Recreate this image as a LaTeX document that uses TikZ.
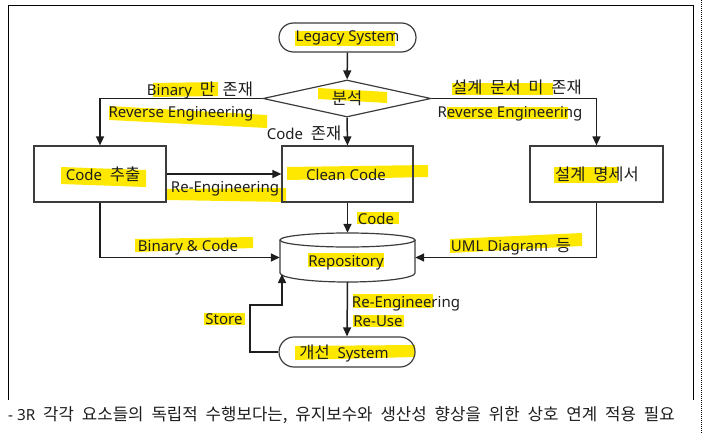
\documentclass[tikz,border=0pt]{standalone}
\usepackage{fontspec}
\setmainfont{Noto Sans}
\newfontfamily\ko[Scale=1.1,WordSpace=2.1]{Noto Sans CJK KR}
\usetikzlibrary{arrows.meta,shapes.geometric,shapes.misc}

\definecolor{hilite}{RGB}{255,232,0}
\definecolor{ink}{RGB}{30,30,30}
\definecolor{linecol}{RGB}{60,60,60}

\tikzset{
  every node/.style={font=\fontsize{15}{17}\selectfont, text=ink},
  box/.style={draw=linecol, line width=1.2pt, minimum width=132pt, minimum height=56pt, inner sep=0pt},
  terminal/.style={rounded rectangle, draw=linecol, line width=1.2pt, minimum width=137pt, minimum height=29pt, inner sep=0pt},
  decision/.style={diamond, draw=linecol, line width=1.2pt, minimum width=168pt, minimum height=37pt, inner sep=0pt, aspect=4.5},
  flow/.style={draw=ink, line width=1.5pt, -{Triangle[length=9pt,width=8pt]}},
  tag/.style={inner sep=0pt, text height=11pt, text depth=3pt},
  hl/.style={fill=hilite},
}

\begin{document}
\begin{tikzpicture}[x=1pt,y=-1pt]
\useasboundingbox (0,0) rectangle (703,434);
\draw[black, line width=1pt] (8,400) -- (8,5) -- (693,5) -- (693,400);
\draw[black, line width=0.8pt, dash pattern=on 1pt off 1pt] (701.5,0) -- (701.5,434);

\fill[hl] (295,31) -- (395,31) -- (395,46) -- (295,46) -- cycle;
\fill[hl] (318,88) -- (387,92) -- (387,103) -- (318,99) -- cycle;
\fill[hl] (153,83) -- (218,82) -- (218,96) -- (153,97) -- cycle;
\fill[hl] (109,106) -- (267,115) -- (267,128) -- (109,120) -- cycle;
\fill[hl] (61,167) -- (146,170) -- (146,187) -- (61,184) -- cycle;
\fill[hl] (166,189) -- (286,188) -- (286,202) -- (166,200) -- cycle;
\fill[hl] (287,167) -- (428,165) -- (428,177) -- (287,180) -- cycle;
\fill[hl] (452,83) -- (553,83) -- (553,95) -- (452,95) -- cycle;
\fill[hl] (447,107) -- (568,107) -- (568,119) -- (447,119) -- cycle;
\fill[hl] (554,167) -- (618,167) -- (618,183) -- (554,183) -- cycle;
\fill[hl] (357,212) -- (399,212) -- (399,224) -- (357,224) -- cycle;
\fill[hl] (135,239) -- (253,237) -- (253,248) -- (135,252) -- cycle;
\fill[hl] (308,253) -- (384,253) -- (384,267) -- (308,267) -- cycle;
\fill[hl] (450,239) -- (582,233) -- (582,246) -- (450,253) -- cycle;
\fill[hl] (204,313) -- (245,313) -- (245,325) -- (204,325) -- cycle;
\fill[hl] (353,294) -- (433,294) -- (433,308) -- (353,308) -- cycle;
\fill[hl] (353,315) -- (404,315) -- (404,327) -- (353,327) -- cycle;
\fill[hl] (295,346) -- (415,345) -- (415,357) -- (295,360) -- cycle;

\node[terminal] (legacy) at (347.5,37.5) {Legacy System};
\node[decision] (analysis) at (347,98.5) {\ko 분석};
\node[box] (extract) at (100,174) {};
\node[box, minimum width=131pt] (clean) at (347.5,174) {};
\node[box, minimum width=133pt] (spec) at (596.5,174) {};
\node[inner sep=0pt, minimum width=135pt, minimum height=49pt] (repo) at (347.5,257.5) {};
\node[terminal, minimum width=136pt, minimum height=30pt] (improved) at (347,352) {};
\coordinate (storein) at (282,274);
\coordinate (storeturn) at (250,305);

\draw[linecol, line width=1.2pt] (347.5,240) ellipse [x radius=67.5, y radius=7];
\draw[linecol, line width=1.2pt] (280,240) -- (280,273) arc[start angle=180, end angle=0, x radius=67.5, y radius=9] -- (415,240);

\node[tag] (extractlabel) at (103,176) {Code{\ko\ 추출}};
\node[tag] (cleanlabel) at (346,176) {Clean Code};
\node[tag] (speclabel) at (597,176) {\ko 설계 명세서};
\node[tag] (repolabel) at (346,262) {Repository};
\node[tag] (improvedlabel) at (344,354) {{\ko 개선\ }System};

\draw[flow] (legacy) -- (analysis);
\draw[flow] (analysis.west) -| (extract.north);
\draw[flow] (analysis.east) -| (spec.north);
\draw[flow] (analysis.south) -- (clean.north);
\draw[flow] (extract.east) -- (clean.west);
\draw[flow] (clean.south) -- (repo.north);
\draw[flow] (extract.south) |- (repo.west);
\draw[flow] (spec.south) |- (repo.east);
\draw[flow] (repo.south) -- (improved.north);
\draw[flow] (improved.west) -| (storeturn) -| (storein);

\node[tag] (binonly) at (200,91) {Binary{\ko\ 만 존재}};
\node[tag] (revleft) at (181,113) {Reverse Engineering};
\node[tag] (codeexists) at (304,135) {Code{\ko\ 존재}};
\node[tag] (nodesign) at (517,89) {\ko 설계 문서 미 존재};
\node[tag] (revright) at (510,113) {Reverse Engineering};
\node[tag] (reeng) at (225,188) {Re-Engineering};
\node[tag] (codeout) at (376,220) {Code};
\node[tag] (bincode) at (188,247) {Binary \& Code};
\node[tag] (uml) at (511,247) {UML Diagram{\ko\ 등}};
\node[tag] (store) at (224,320) {Store};
\node[tag] (reenglow) at (406,303) {Re-Engineering};
\node[tag] (reuse) at (378,322) {Re-Use};

\node[tag, anchor=west, font=\fontsize{15.25}{17}\selectfont] (footer) at (8,416) {-\ 3R{\ko\ 각각 요소들의 독립적 수행보다는, 유지보수와 생산성 향상을 위한 상호 연계 적용 필요}};
\end{tikzpicture}
\end{document}
